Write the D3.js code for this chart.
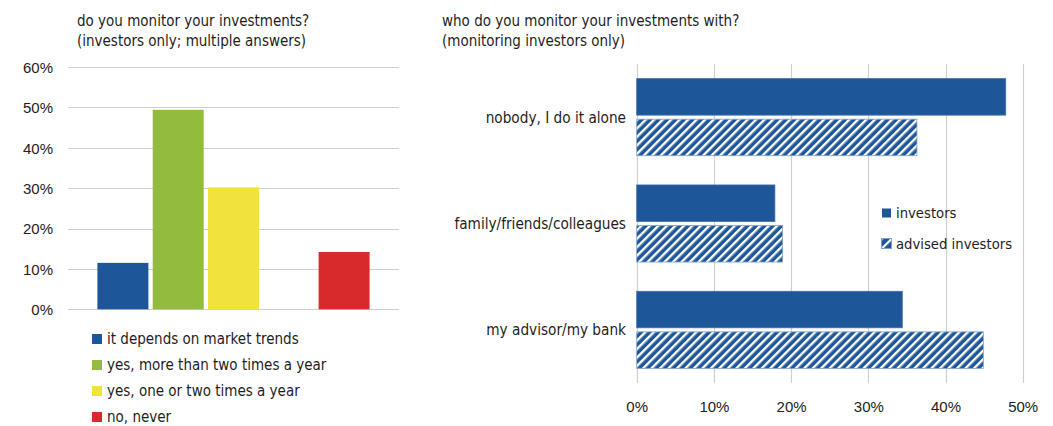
<!DOCTYPE html>
<html>
<head>
<meta charset="utf-8">
<script src="https://cdn.jsdelivr.net/npm/d3@7"></script>
<style>
  html, body { margin: 0; padding: 0; background: #fff; }
  svg { display: block; }
  .cond { font-family: "Liberation Sans Narrow", "DejaVu Sans Condensed", "Arial Narrow", sans-serif; fill: #1e1e1e; }
  .tick-txt { font-family: "Liberation Sans", Arial, sans-serif; fill: #222; }
</style>
</head>
<body>
<svg id="chart" width="1053" height="426"></svg>
<script>
// ---- left panel: how often investors monitor ----
const freqTitle = ["do you monitor your investments?", "(investors only; multiple answers)"];
const freqCategories = ["it depends on market trends", "yes, more than two times a year", "yes, one or two times a year", "no, never"];
const freqValues = [0.115, 0.494, 0.302, 0.142];
const freqColors = ["#1e5799", "#93bb3e", "#f1e33b", "#d8292c"];
// bar slots along the axis; the empty slot leaves a gap before "no, never"
const freqSlots = ["it depends on market trends", "yes, more than two times a year", "yes, one or two times a year", "", "no, never"];
const freqTicks = [0, 0.1, 0.2, 0.3, 0.4, 0.5, 0.6];

// ---- right panel: who investors monitor with ----
const withTitle = ["who do you monitor your investments with?", "(monitoring investors only)"];
const withCategories = ["nobody, I do it alone", "family/friends/colleagues", "my advisor/my bank"];
const withSeries = ["investors", "advised investors"];
const investorsValues = [0.478, 0.179, 0.344];
const advisedValues = [0.363, 0.189, 0.449];
const withTicks = [0, 0.1, 0.2, 0.3, 0.4, 0.5];

const blue = "#1e5799";
const grid = "#cfcfcf";
const pct = d3.format(".0%");

const svg = d3.select("#chart");

// diagonal hatch used for the advised-investors series
const defs = svg.append("defs");
const hatch = defs.append("pattern")
  .attr("id", "hatch")
  .attr("patternUnits", "userSpaceOnUse")
  .attr("width", 6).attr("height", 6)
  .attr("patternTransform", "rotate(45)");
hatch.append("rect").attr("width", 6).attr("height", 6).attr("fill", blue);
hatch.append("rect").attr("x", 0).attr("width", 2.4).attr("height", 6).attr("fill", "#ffffff");

const hatchSmall = defs.append("pattern")
  .attr("id", "hatchSmall")
  .attr("patternUnits", "userSpaceOnUse")
  .attr("width", 7).attr("height", 7)
  .attr("patternTransform", "translate(881,238) rotate(45)");
hatchSmall.append("rect").attr("width", 7).attr("height", 7).attr("fill", blue);
hatchSmall.append("rect").attr("x", 0).attr("width", 2.2).attr("height", 7).attr("fill", "#ffffff");

// ================= LEFT PANEL =================
const L = svg.append("g");

L.selectAll("text.title").data(freqTitle).join("text")
  .attr("class", "cond")
  .attr("x", 77).attr("y", (d, i) => 25.5 + i * 20.5)
  .style("font-size", "15px")
  .text(d => d);

const yL = d3.scaleLinear().domain([0, 0.6]).range([309.3, 67]);
const xL = d3.scaleBand().domain(freqSlots.map((d, i) => i)).range([68, 399])
  .paddingInner(0.078).paddingOuter(0.532);

// horizontal gridlines
L.append("g").selectAll("line").data(freqTicks).join("line")
  .attr("x1", 68).attr("x2", 399)
  .attr("y1", d => Math.round(yL(d)) + 0.5).attr("y2", d => Math.round(yL(d)) + 0.5)
  .attr("stroke", grid).attr("stroke-width", 1.2);

// y axis labels
const yAxis = d3.axisLeft(yL).tickValues(freqTicks).tickFormat(pct).tickSize(0).tickPadding(0);
const yAxisG = L.append("g").attr("transform", "translate(53,0)").call(yAxis);
yAxisG.select(".domain").remove();
yAxisG.selectAll("text").attr("class", "tick-txt").style("font-size", "15px").attr("dy", "0.36em");

// bars
const freqData = freqCategories.map((c, i) => ({ cat: c, value: freqValues[i], color: freqColors[i] }));
L.append("g").selectAll("rect").data(freqData).join("rect")
  .attr("x", d => xL(freqSlots.indexOf(d.cat)))
  .attr("width", xL.bandwidth())
  .attr("y", d => yL(d.value))
  .attr("height", d => yL(0) - yL(d.value))
  .attr("fill", d => d.color);

// legend
const legL = L.append("g").selectAll("g").data(freqData).join("g")
  .attr("transform", (d, i) => `translate(92, ${339 + i * 26})`);
legL.append("rect").attr("x", 0).attr("y", -5).attr("width", 10).attr("height", 10).attr("fill", d => d.color);
legL.append("text").attr("class", "cond").attr("x", 15).attr("dy", "0.36em")
  .style("font-size", "15px").text(d => d.cat);

// ================= RIGHT PANEL =================
const R = svg.append("g");

R.selectAll("text.title").data(withTitle).join("text")
  .attr("class", "cond")
  .attr("x", 442).attr("y", (d, i) => 25.5 + i * 20.5)
  .style("font-size", "15px")
  .text(d => d);

const xR = d3.scaleLinear().domain([0, 0.5]).range([636.7, 1022.7]);
const yR = d3.scaleBand().domain(withCategories).range([64, 383])
  .paddingInner(0.275).paddingOuter(0.1375);
const yInner = d3.scaleBand().domain(withSeries).range([0, yR.bandwidth()]).paddingInner(0.1);

// vertical gridlines
R.append("g").selectAll("line").data(withTicks).join("line")
  .attr("x1", d => Math.round(xR(d)) + 0.5).attr("x2", d => Math.round(xR(d)) + 0.5)
  .attr("y1", 64).attr("y2", 383)
  .attr("stroke", grid).attr("stroke-width", 1.2);

// x axis labels
const xAxis = d3.axisBottom(xR).tickValues(withTicks).tickFormat(pct).tickSize(0).tickPadding(0);
const xAxisG = R.append("g").attr("transform", "translate(0,400)").call(xAxis);
xAxisG.select(".domain").remove();
xAxisG.selectAll("text").attr("class", "tick-txt").style("font-size", "15px").attr("dy", "0.78em");

// category labels
R.append("g").selectAll("text").data(withCategories).join("text")
  .attr("class", "cond")
  .attr("x", 626).attr("y", d => yR(d) + yR.bandwidth() / 2)
  .attr("dy", "0.36em").attr("text-anchor", "end")
  .style("font-size", "15.2px")
  .text(d => d);

// bars
const withData = [];
withCategories.forEach((c, i) => {
  withData.push({ cat: c, series: withSeries[0], value: investorsValues[i] });
  withData.push({ cat: c, series: withSeries[1], value: advisedValues[i] });
});
R.append("g").selectAll("rect").data(withData).join("rect")
  .attr("x", xR(0))
  .attr("y", d => yR(d.cat) + yInner(d.series))
  .attr("width", d => xR(d.value) - xR(0))
  .attr("height", yInner.bandwidth())
  .attr("fill", d => d.series === withSeries[0] ? blue : "url(#hatch)")
  .attr("stroke", d => d.series === withSeries[0] ? "#3f6fa8" : "#7fa0cc")
  .attr("stroke-width", 0.8);

// legend
const legR = R.append("g");
legR.append("rect").attr("x", 882).attr("y", 208.5).attr("width", 9).attr("height", 9).attr("fill", blue);
legR.append("rect").attr("x", 881.5).attr("y", 238.5).attr("width", 10).attr("height", 10)
  .attr("fill", "url(#hatchSmall)").attr("stroke", "#7fa0cc").attr("stroke-width", 1);
legR.selectAll("text").data(withSeries).join("text")
  .attr("class", "cond")
  .attr("x", 896).attr("y", (d, i) => 212.7 + i * 31.3)
  .attr("dy", "0.36em")
  .style("font-size", "14.7px")
  .text(d => d);
</script>
</body>
</html>
